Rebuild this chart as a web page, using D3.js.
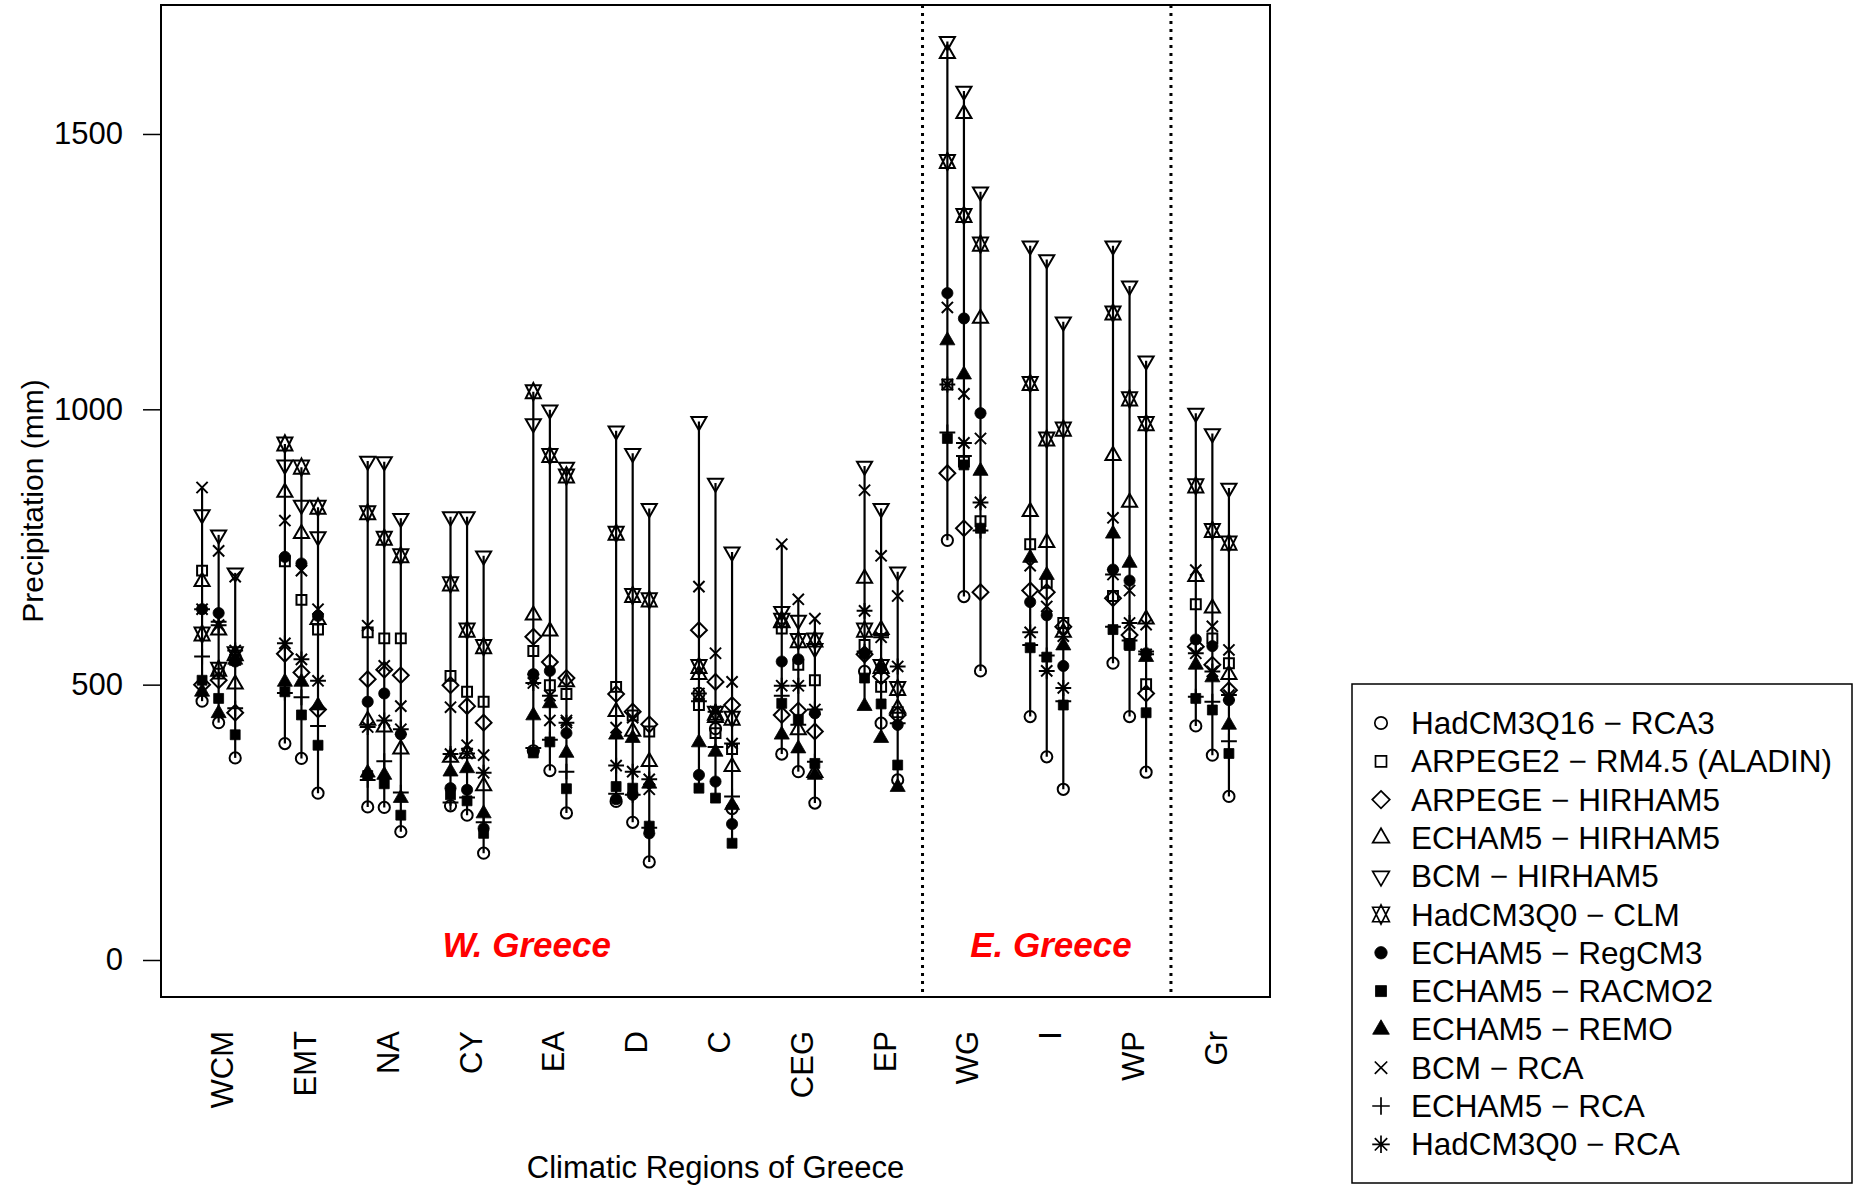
<!DOCTYPE html>
<html><head><meta charset="utf-8">
<script src="https://cdn.jsdelivr.net/npm/d3@7"></script>
<style>
body{margin:0;background:#fff}
svg{display:block}
text{font-family:"Liberation Sans",Arial,Helvetica,sans-serif;fill:#000}
</style>
</head><body>
<svg id="chart" width="1858" height="1186"></svg>
<script>
// ---------------- DATA ----------------
const regions = ["WCM","EMT","NA","CY","EA","D","C","CEG","EP","WG","I","WP","Gr"];
const models = ["HadCM3Q16 \u2212 RCA3","ARPEGE2 \u2212 RM4.5 (ALADIN)","ARPEGE \u2212 HIRHAM5","ECHAM5 \u2212 HIRHAM5",
  "BCM \u2212 HIRHAM5","HadCM3Q0 \u2212 CLM","ECHAM5 \u2212 RegCM3","ECHAM5 \u2212 RACMO2","ECHAM5 \u2212 REMO",
  "BCM \u2212 RCA","ECHAM5 \u2212 RCA","HadCM3Q0 \u2212 RCA"];
const yTicks = [0, 500, 1000, 1500];
const zoneLabels = ["W. Greece", "E. Greece"];

// precipitation (mm) per region, three values (one per vertical line) per region
const hadcm3q16_rca3 = [[470,431,367],[393,366,303],[278,277,233],[280,263,194],[380,344,267],[288,250,178],[484,420,275],[374,342,285],[524,430,327],[762,660,525],[442,369,310],[539,442,341],[425,372,297]];
const arpege2_rm45   = [[707,520,545],[724,654,600],[595,584,584],[516,487,469],[561,499,483],[496,444,415],[463,412,383],[602,536,508],[572,496,450],[1045,905,797],[755,685,612],[661,574,501],[646,584,539]];
const arpege_hirham5 = [[500,508,449],[556,522,455],[510,527,517],[499,461,431],[587,541,512],[483,451,428],[599,505,463],[445,453,415],[555,515,445],[884,784,668],[671,668,605],[657,590,484],[569,536,490]];
const echam5_hirham5 = [[687,599,501],[849,774,618],[435,423,383],[368,375,316],[626,597,505],[451,415,360],[518,440,351],[612,418,340],[693,600,457],[1646,1537,1165],[814,758,595],[916,831,619],[696,639,518]];
const bcm_hirham5    = [[809,772,703],[899,826,769],[906,905,802],[805,805,734],[974,999,895],[961,920,820],[978,866,741],[633,617,566],[897,820,705],[1668,1578,1395],[1297,1272,1159],[1297,1224,1088],[993,956,857]];
const hadcm3q0_clm   = [[592,528,556],[937,895,822],[812,766,734],[683,599,569],[1032,916,879],[775,662,654],[533,448,439],[617,580,581],[599,533,493],[1450,1352,1300],[1047,946,964],[1175,1019,974],[861,780,757]];
const echam5_regcm3  = [[637,630,542],[732,720,625],[469,484,410],[312,309,239],[519,525,412],[292,300,230],[336,324,247],[542,546,448],[556,530,427],[1211,1165,993],[650,626,534],[709,689,557],[582,570,472]];
const echam5_racmo2  = [[508,475,409],[487,445,390],[335,320,263],[300,289,230],[376,396,311],[315,312,243],[312,294,212],[466,437,357],[512,465,354],[947,899,784],[567,550,463],[600,571,449],[475,454,375]];
const echam5_remo    = [[487,448,545],[505,505,462],[340,336,294],[342,348,266],[444,466,376],[409,403,320],[395,378,281],[409,384,336],[461,403,314],[1125,1063,888],[730,699,571],[774,721,550],[536,513,427]];
const bcm_rca        = [[858,743,696],[798,707,637],[607,534,461],[459,390,372],[510,435,435],[422,440,310],[678,557,505],[755,655,620],[853,734,661],[1185,1028,947],[716,642,588],[803,671,609],[708,606,563]];
const echam5_rca     = [[551,614,457],[485,477,425],[327,361,304],[286,295,250],[385,400,342],[302,300,240],[470,387,297],[480,427,360],[560,590,430],[958,915,780],[572,553,470],[605,580,560],[478,469,397]];
const hadcm3q0_rca   = [[637,608,562],[575,546,507],[423,435,419],[374,375,340],[503,480,431],[353,342,328],[484,451,393],[498,498,455],[634,586,533],[1045,939,831],[595,525,494],[700,612,555],[557,524,481]];

const modelValues = [hadcm3q16_rca3, arpege2_rm45, arpege_hirham5, echam5_hirham5, bcm_hirham5, hadcm3q0_clm,
  echam5_regcm3, echam5_racmo2, echam5_remo, bcm_rca, echam5_rca, hadcm3q0_rca];

// ---------------- DRAWING ----------------
const svg = d3.select("#chart");
const plot = {left:161, right:1270, top:5, bottom:997};
const x = d3.scaleLinear().domain([0.304, 13.696]).range([plot.left, plot.right]);
const y = d3.scaleLinear().domain([-67.2, 1734.2]).range([plot.bottom, plot.top]);
const periodOffset = [-0.2, 0, 0.2];
const shapes = ["circle","square","diamond","triUp","triDown","star11","dot","fsquare","ftri","cross","plus","aster"];

function symbol(type, R){
  const r = 1.555*R, xc = 1.347*R, yc = 0.778*R, yc11 = 1.167*R, s = 0.886*R, dd = 1.414*R, p = 1.414*R;
  switch(type){
    case "circle": return {d:`M${R},0A${R},${R} 0 1 1 ${-R},0A${R},${R} 0 1 1 ${R},0Z`, fill:false};
    case "dot": return {d:`M${R},0A${R},${R} 0 1 1 ${-R},0A${R},${R} 0 1 1 ${R},0Z`, fill:true};
    case "square": return {d:`M${-s},${-s}H${s}V${s}H${-s}Z`, fill:false};
    case "fsquare": return {d:`M${-s},${-s}H${s}V${s}H${-s}Z`, fill:true};
    case "diamond": return {d:`M0,${-dd}L${dd},0L0,${dd}L${-dd},0Z`, fill:false};
    case "triUp": return {d:`M0,${-r}L${xc},${yc}L${-xc},${yc}Z`, fill:false};
    case "ftri": return {d:`M0,${-r}L${xc},${yc}L${-xc},${yc}Z`, fill:true};
    case "triDown": return {d:`M0,${r}L${xc},${-yc}L${-xc},${-yc}Z`, fill:false};
    case "star11": return {d:`M0,${-r}L${xc},${yc11}L${-xc},${yc11}ZM0,${r}L${xc},${-yc11}L${-xc},${-yc11}Z`, fill:false};
    case "cross": return {d:`M${-R},${-R}L${R},${R}M${-R},${R}L${R},${-R}`, fill:false};
    case "plus": return {d:`M${-p},0H${p}M0,${-p}V${p}`, fill:false};
    case "aster": return {d:`M${-R},${-R}L${R},${R}M${-R},${R}L${R},${-R}M${-p},0H${p}M0,${-p}V${p}`, fill:false};
  }
}
function drawSymbol(g, type, cx, cy, R, sw){
  const sy = symbol(type, R);
  g.append("path").attr("d", sy.d).attr("transform", `translate(${cx},${cy})`)
    .attr("fill", sy.fill ? "#000" : "none").attr("stroke", "#000")
    .attr("stroke-width", sy.fill ? 0.8 : sw).attr("stroke-linejoin","miter");
}

// vertical range lines
const segs = [];
regions.forEach((reg, r) => periodOffset.forEach((off, pI) => {
  const vals = modelValues.map(a => a[r][pI]);
  segs.push({xv: r + 1 + off, min: d3.min(vals), max: d3.max(vals)});
}));
svg.append("g").selectAll("line").data(segs).join("line")
  .attr("x1", d => x(d.xv)).attr("x2", d => x(d.xv))
  .attr("y1", d => y(d.min)).attr("y2", d => y(d.max))
  .attr("stroke", "#000").attr("stroke-width", 2.2);

// symbols
const gp = svg.append("g");
modelValues.forEach((arr, m) => arr.forEach((triple, r) => triple.forEach((v, pI) => {
  drawSymbol(gp, shapes[m], x(r + 1 + periodOffset[pI]), y(v), 5.6, 2);
})));

// dotted separators
[9.5, 12.5].forEach(xv => {
  svg.append("line").attr("x1", x(xv)).attr("x2", x(xv)).attr("y1", plot.top).attr("y2", plot.bottom)
    .attr("stroke", "#000").attr("stroke-width", 3).attr("stroke-dasharray", "3,5");
});

// frame
svg.append("rect").attr("x", plot.left).attr("y", plot.top)
  .attr("width", plot.right - plot.left).attr("height", plot.bottom - plot.top)
  .attr("fill", "none").attr("stroke", "#000").attr("stroke-width", 2);

// y axis
const gy = svg.append("g").attr("transform", `translate(${plot.left},0)`)
  .call(d3.axisLeft(y).tickValues(yTicks).tickSize(18).tickPadding(20).tickFormat(d3.format("d")));
gy.select(".domain").remove();
gy.selectAll(".tick line").attr("stroke", "#000").attr("stroke-width", 1.5);
gy.selectAll(".tick text").attr("font-size", 31).attr("fill", "#000")
  .style("font-family", '"Liberation Sans",Arial,sans-serif');

// x labels (rotated)
svg.append("g").selectAll("text").data(regions).join("text")
  .attr("transform", (d, i) => `translate(${x(i + 1) + 4},1031) rotate(-90)`)
  .attr("text-anchor", "end").attr("dominant-baseline", "central")
  .attr("font-size", 31).text(d => d);

// axis titles
svg.append("text").attr("transform", `translate(32,${(plot.top + plot.bottom) / 2}) rotate(-90)`)
  .attr("text-anchor", "middle").attr("dominant-baseline", "central")
  .attr("font-size", 30).text("Precipitation (mm)");
svg.append("text").attr("x", (plot.left + plot.right) / 2).attr("y", 1167)
  .attr("text-anchor", "middle").attr("dominant-baseline", "central")
  .attr("font-size", 31).text("Climatic Regions of Greece");

// zone labels
[[4.72, zoneLabels[0]], [11.05, zoneLabels[1]]].forEach(([xv, t]) => {
  svg.append("text").attr("x", x(xv)).attr("y", y(28))
    .attr("text-anchor", "middle").attr("dominant-baseline", "central")
    .attr("font-size", 35).attr("font-weight", "bold").attr("font-style", "italic")
    .style("fill", "#ff0000").text(t);
});

// legend
const lg = svg.append("g");
lg.append("rect").attr("x", 1352).attr("y", 684).attr("width", 500).attr("height", 499)
  .attr("fill", "#fff").attr("stroke", "#000").attr("stroke-width", 1.5);
models.forEach((name, i) => {
  const cy = 723 + i * 38.3;
  drawSymbol(lg, shapes[i], 1381, cy, 6.2, 1.7);
  lg.append("text").attr("x", 1411).attr("y", cy).attr("dominant-baseline", "central")
    .attr("font-size", 31.5).text(name);
});
</script>
</body></html>
